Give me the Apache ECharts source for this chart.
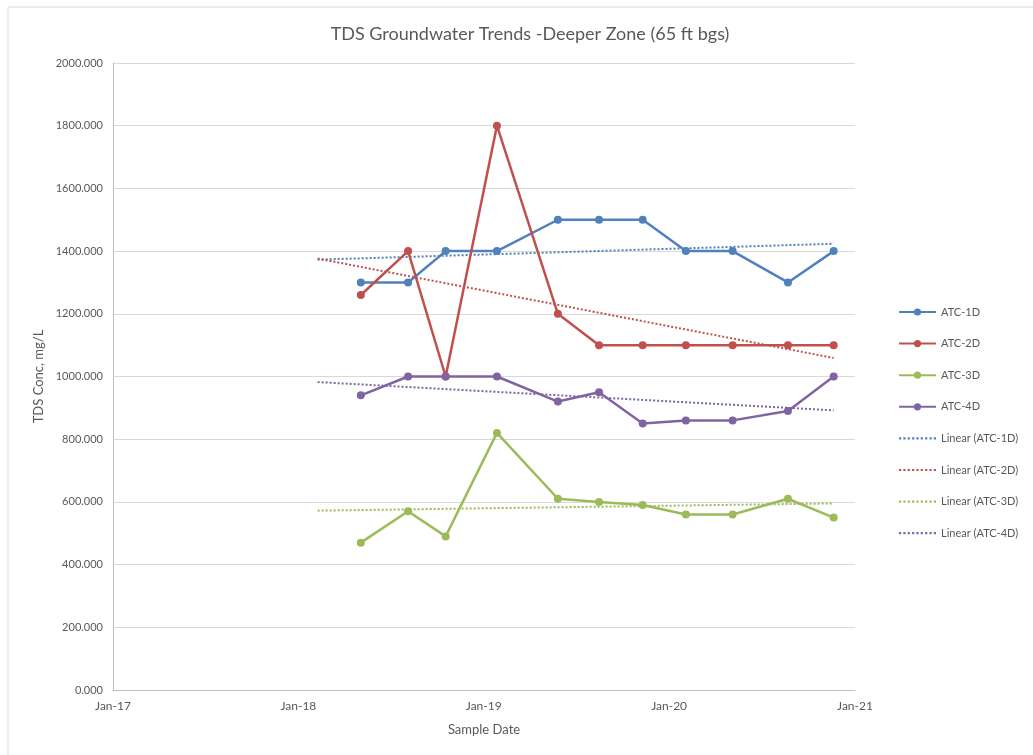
<!DOCTYPE html>
<html>
<head>
<meta charset="utf-8">
<title>TDS Groundwater Trends</title>
<script src="https://cdn.jsdelivr.net/npm/echarts@6/dist/echarts.min.js"></script>
<style>
  html, body { margin: 0; padding: 0; background: #ffffff; }
  #chart { width: 1033px; height: 755px; }
</style>
</head>
<body>
<div id="chart"></div>
<script>
// Sampling dates shared by all four wells
const sampleDates = ['2018-05-04', '2018-08-05', '2018-10-18', '2019-01-27', '2019-05-27',
  '2019-08-16', '2019-11-10', '2020-02-03', '2020-05-05', '2020-08-22', '2020-11-20'];

// TDS concentrations, mg/L
const atc1D = [1300, 1300, 1400, 1400, 1500, 1500, 1500, 1400, 1400, 1300, 1400];
const atc2D = [1260, 1400, 1000, 1800, 1200, 1100, 1100, 1100, 1100, 1100, 1100];
const atc3D = [470, 570, 490, 820, 610, 600, 590, 560, 560, 610, 550];
const atc4D = [940, 1000, 1000, 1000, 920, 950, 850, 860, 860, 890, 1000];

const seriesNames = ['ATC-1D', 'ATC-2D', 'ATC-3D', 'ATC-4D'];
const seriesValues = [atc1D, atc2D, atc3D, atc4D];
const seriesColors = ['#4F81BD', '#C0504D', '#9BBB59', '#8064A2'];

// Axis range
const xStart = '2017-01-01';
const xEnd = '2021-01-01';
const yMin = 0, yMax = 2000, yStep = 200;

// Trendlines are projected backward this many days before the first sample
const trendBackDays = 85;

const DAY = 24 * 3600 * 1000;
const xs = sampleDates.map(d => +new Date(d + 'T00:00:00'));

// Least-squares straight line through one well's readings
function linearFit(x, y) {
  const n = x.length;
  const mx = x.reduce((a, b) => a + b, 0) / n;
  const my = y.reduce((a, b) => a + b, 0) / n;
  let sxy = 0, sxx = 0;
  for (let i = 0; i < n; i++) {
    sxy += (x[i] - mx) * (y[i] - my);
    sxx += (x[i] - mx) * (x[i] - mx);
  }
  const slope = sxy / sxx;
  return t => my + slope * (t - mx);
}

// Dotted-line legend icon for the trend entries
let dotPath = 'path://';
for (let i = 0; i < 9; i++) dotPath += 'M' + (i * 4) + ',0h2v2h-2z';

const font = 'Lato, "Open Sans", sans-serif';
const textGrey = '#595959';

const series = [];
const legendData = [];
seriesNames.forEach((name, i) => {
  series.push({
    name: name,
    type: 'line',
    data: xs.map((t, k) => [t, seriesValues[i][k]]),
    symbol: 'circle',
    symbolSize: 8,
    color: seriesColors[i],
    lineStyle: { width: 2.5, color: seriesColors[i] },
    itemStyle: { color: seriesColors[i] },
    z: 3
  });
  legendData.push({ name: name });
});
seriesNames.forEach((name, i) => {
  const f = linearFit(xs, seriesValues[i]);
  const t0 = xs[0] - trendBackDays * DAY;
  const t1 = xs[xs.length - 1];
  const trendName = 'Linear (' + name + ')';
  series.push({
    name: trendName,
    type: 'line',
    data: [[t0, f(t0)], [t1, f(t1)]],
    symbol: 'none',
    color: seriesColors[i],
    lineStyle: { width: 2, type: [2, 2], color: seriesColors[i] },
    z: 2
  });
  legendData.push({ name: trendName, icon: dotPath });
});

const chart = echarts.init(document.getElementById('chart'), null, { renderer: 'canvas' });
chart.setOption({
  backgroundColor: '#ffffff',
  animation: false,
  textStyle: { fontFamily: font },
  graphic: [{
    type: 'rect',
    shape: { x: 8, y: 7, width: 1100, height: 900 },
    style: { fill: 'none', stroke: '#d9d9d9', lineWidth: 1 },
    silent: true
  }],
  title: {
    text: 'TDS Groundwater Trends -Deeper Zone (65 ft bgs)',
    left: 525,
    textAlign: 'center',
    top: 20,
    textStyle: { fontFamily: font, fontSize: 18, fontWeight: 'normal', color: textGrey }
  },
  grid: { left: 113, right: 178, top: 63, bottom: 65 },
  legend: {
    orient: 'vertical',
    left: 893,
    top: 300,
    itemWidth: 37,
    itemHeight: 9,
    itemGap: 17.6,
    textStyle: { fontFamily: font, fontSize: 11, color: textGrey, lineHeight: 14 },
    data: legendData
  },
  xAxis: {
    type: 'time',
    min: xStart,
    max: xEnd,
    minInterval: 365 * DAY,
    maxInterval: 366 * DAY,
    name: 'Sample Date',
    nameLocation: 'middle',
    nameGap: 33,
    nameTextStyle: { fontFamily: font, fontSize: 13, color: textGrey },
    axisLine: { show: true, lineStyle: { color: '#bfbfbf', width: 1 } },
    axisTick: { show: false },
    splitLine: { show: false },
    axisLabel: {
      fontFamily: font, fontSize: 12, color: textGrey, margin: 10,
      formatter: '{MMM}-{yy}',
      showMinLabel: true, showMaxLabel: true
    }
  },
  yAxis: {
    type: 'value',
    min: yMin,
    max: yMax,
    interval: yStep,
    name: 'TDS Conc, mg/L',
    nameLocation: 'middle',
    nameGap: 68,
    nameTextStyle: { fontFamily: font, fontSize: 13, color: textGrey },
    axisLine: { show: true, lineStyle: { color: '#bfbfbf', width: 1 } },
    axisTick: { show: false },
    splitLine: { show: true, lineStyle: { color: '#d9d9d9', width: 1 } },
    axisLabel: {
      fontFamily: font, fontSize: 11, color: textGrey, margin: 10,
      formatter: v => v.toFixed(3)
    }
  },
  series: series
});
</script>
</body>
</html>
